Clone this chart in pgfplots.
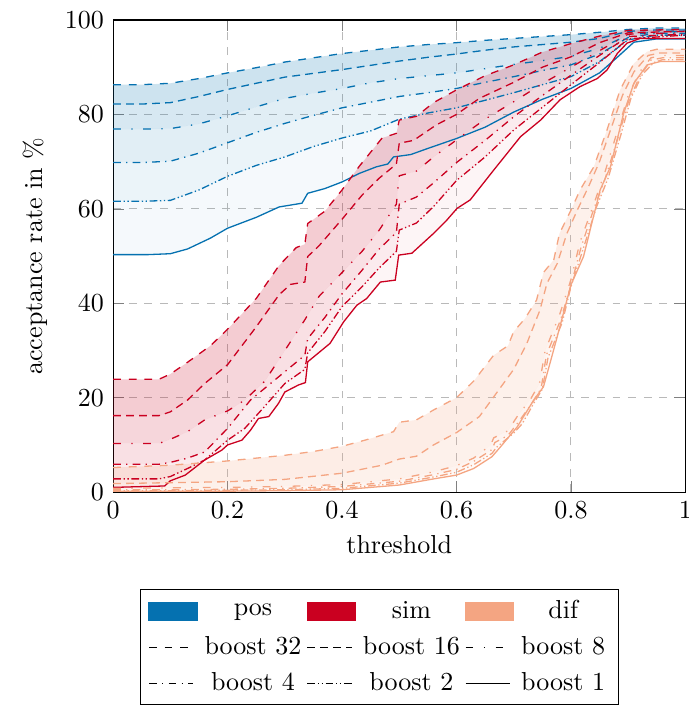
\documentclass[border=0pt]{standalone}
\usepackage{pgfplots}
\pgfplotsset{compat=1.18}
\usepgfplotslibrary{fillbetween}
\definecolor{posc}{HTML}{0571B0}
\definecolor{simc}{HTML}{CA0020}
\definecolor{difc}{HTML}{F4A582}
\pgfplotsset{
  b32/.style={dashed},
  b16/.style={densely dashed},
  b8/.style={loosely dashdotted},
  b4/.style={dashdotted},
  b2/.style={densely dashdotdotted},
  b1/.style={solid},
  band/.style={draw=none, fill opacity=#1, forget plot},
}
\begin{document}
\begin{tikzpicture}
\begin{axis}[
  scale only axis, width=220pt, height=181.5pt,
  xmin=0, xmax=1, ymin=0, ymax=100,
  xtick={0,0.2,0.4,0.6,0.8,1}, ytick={0,20,40,60,80,100},
  xlabel={threshold}, ylabel={acceptance rate in \%},
  grid=major, major grid style={dashed, gray!55},
  legend columns=3,
  legend style={at={(0.047,-0.206)}, anchor=north west, draw=black,
    row sep=1.4pt, /tikz/every odd column/.append style={column sep=0.6pt}},
  every axis plot/.append style={line width=0.5pt},
]
% ---- pos
\addplot[posc, b32, name path=p32, forget plot] coordinates {(0,86.3)(0.05,86.3)(0.1,86.6)(0.15,87.6)(0.2,88.8)(0.25,89.9)(0.3,91.1)(0.35,92.0)(0.4,92.9)(0.45,93.6)(0.5,94.3)(0.55,94.8)(0.6,95.2)(0.65,95.7)(0.7,96.1)(0.75,96.5)(0.8,96.9)(0.85,97.4)(0.9,98.0)(0.95,98.3)(1,98.3)};
\addplot[posc, b16, name path=p16, forget plot] coordinates {(0,82.2)(0.05,82.2)(0.1,82.5)(0.15,83.8)(0.2,85.3)(0.25,86.6)(0.3,87.9)(0.35,88.7)(0.4,89.5)(0.45,90.4)(0.5,91.3)(0.55,92.1)(0.6,92.8)(0.65,93.6)(0.7,94.3)(0.75,94.8)(0.8,95.3)(0.85,96.1)(0.9,97.6)(0.95,97.9)(1,97.9)};
\addplot[posc, b8, name path=p8, forget plot] coordinates {(0,76.9)(0.05,76.9)(0.1,77.0)(0.15,78.0)(0.2,79.7)(0.25,81.6)(0.3,83.4)(0.35,84.5)(0.4,85.5)(0.45,86.7)(0.5,87.6)(0.55,88.2)(0.6,88.8)(0.65,89.7)(0.7,90.6)(0.75,91.4)(0.8,92.3)(0.85,94.0)(0.9,96.8)(0.95,97.5)(1,97.5)};
\addplot[posc, b4, name path=p4, forget plot] coordinates {(0,69.8)(0.05,69.8)(0.1,70.1)(0.15,71.8)(0.2,74.0)(0.25,76.2)(0.3,78.1)(0.35,79.8)(0.4,81.4)(0.45,82.6)(0.5,83.8)(0.55,84.6)(0.6,85.5)(0.65,86.8)(0.7,88.0)(0.75,89.3)(0.8,90.5)(0.85,92.8)(0.9,96.3)(0.95,97.2)(1,97.2)};
\addplot[posc, b2, name path=p2, forget plot] coordinates {(0,61.6)(0.05,61.6)(0.1,61.8)(0.15,64.0)(0.2,66.9)(0.25,69.2)(0.3,71.0)(0.35,73.2)(0.4,75.0)(0.45,76.5)(0.5,79.0)(0.55,80.3)(0.6,81.4)(0.65,83.0)(0.7,84.6)(0.75,86.3)(0.8,88.0)(0.85,91.2)(0.9,95.8)(0.95,96.8)(1,96.8)};
\addplot[posc, b1, name path=p1, forget plot] coordinates {(0,50.3)(0.06,50.3)(0.1,50.5)(0.13,51.5)(0.17,53.8)(0.2,55.9)(0.25,58.2)(0.29,60.4)(0.33,61.2)(0.34,63.3)(0.37,64.3)(0.4,65.7)(0.43,67.5)(0.46,68.9)(0.48,69.5)(0.49,71.0)(0.52,71.5)(0.55,72.8)(0.6,74.9)(0.65,77.3)(0.7,80.5)(0.75,83.2)(0.8,85.5)(0.85,88.8)(0.88,92.0)(0.91,95.3)(0.95,96.0)(1,96.0)};
\addplot[posc, band=0.20] fill between[of=p32 and p16];
\addplot[posc, band=0.16] fill between[of=p16 and p8];
\addplot[posc, band=0.12] fill between[of=p8 and p4];
\addplot[posc, band=0.08] fill between[of=p4 and p2];
\addplot[posc, band=0.04] fill between[of=p2 and p1];
% ---- sim
\addplot[simc, b32, name path=s32, forget plot] coordinates {(0,23.9)(0.08,23.9)(0.1,25.0)(0.13,27.5)(0.17,31.0)(0.2,34.5)(0.25,41.0)(0.29,48.0)(0.32,51.8)(0.335,52.5)(0.34,56.9)(0.37,59.5)(0.4,64.0)(0.43,69.0)(0.47,75.0)(0.495,76.0)(0.5,78.8)(0.53,79.6)(0.56,82.5)(0.6,85.2)(0.65,88.2)(0.7,90.5)(0.75,93.2)(0.8,95.0)(0.85,96.6)(0.9,97.8)(1,98.0)};
\addplot[simc, b16, name path=s16, forget plot] coordinates {(0,16.2)(0.08,16.2)(0.1,17.0)(0.13,19.5)(0.16,23.0)(0.2,27.0)(0.25,35.0)(0.29,41.8)(0.31,44.0)(0.335,44.5)(0.34,49.9)(0.36,52.2)(0.4,57.8)(0.435,62.9)(0.465,66.5)(0.495,69.5)(0.5,73.9)(0.525,74.5)(0.565,77.8)(0.6,80.0)(0.64,83.4)(0.7,86.8)(0.75,90.0)(0.8,92.2)(0.85,95.2)(0.9,97.3)(1,97.6)};
\addplot[simc, b8, name path=s8, forget plot] coordinates {(0,10.3)(0.08,10.3)(0.1,11.2)(0.13,12.8)(0.16,15.3)(0.2,17.2)(0.23,19.5)(0.265,23.5)(0.3,30.0)(0.335,36.5)(0.36,41.5)(0.4,46.5)(0.435,51.0)(0.465,55.5)(0.495,61.0)(0.5,67.0)(0.53,68.0)(0.56,71.0)(0.6,74.6)(0.65,79.0)(0.7,82.7)(0.75,86.5)(0.8,90.0)(0.85,93.5)(0.9,97.0)(1,97.3)};
\addplot[simc, b4, name path=s4, forget plot] coordinates {(0,5.9)(0.08,5.9)(0.1,6.3)(0.13,7.2)(0.16,8.5)(0.18,11.0)(0.2,13.5)(0.24,19.5)(0.27,22.5)(0.3,25.5)(0.335,29.0)(0.34,32.5)(0.37,37.0)(0.4,42.0)(0.435,47.0)(0.465,51.5)(0.495,55.0)(0.5,61.0)(0.53,62.5)(0.56,65.5)(0.6,69.8)(0.65,74.5)(0.7,79.5)(0.75,84.0)(0.8,88.3)(0.85,92.5)(0.9,96.5)(1,97.0)};
\addplot[simc, b2, name path=s2, forget plot] coordinates {(0,2.8)(0.08,2.8)(0.1,3.3)(0.13,5.0)(0.16,6.8)(0.2,11.0)(0.23,13.5)(0.26,17.5)(0.3,23.0)(0.335,26.0)(0.34,29.5)(0.37,34.0)(0.4,39.3)(0.435,43.5)(0.465,47.5)(0.495,51.0)(0.5,55.5)(0.53,57.0)(0.56,60.5)(0.6,66.0)(0.65,71.0)(0.7,76.7)(0.75,81.5)(0.8,86.3)(0.85,91.0)(0.9,96.0)(1,96.8)};
\addplot[simc, b1, name path=s1, forget plot] coordinates {(0,1.0)(0.09,1.3)(0.1,2.4)(0.126,3.6)(0.16,6.8)(0.19,8.9)(0.2,10.0)(0.225,11.0)(0.24,13.1)(0.254,15.6)(0.272,16.0)(0.289,18.8)(0.3,21.2)(0.324,22.7)(0.336,23.2)(0.34,27.6)(0.379,31.5)(0.403,36.1)(0.426,39.6)(0.443,41.0)(0.467,44.5)(0.493,44.9)(0.499,50.2)(0.522,50.6)(0.56,54.8)(0.583,57.6)(0.601,60.1)(0.624,61.9)(0.665,68.2)(0.712,75.3)(0.747,78.8)(0.781,83.1)(0.816,85.9)(0.846,87.6)(0.863,89.4)(0.881,92.9)(0.898,95.1)(0.921,96.1)(1,96.1)};
\addplot[simc, band=0.20] fill between[of=s32 and s16];
\addplot[simc, band=0.16] fill between[of=s16 and s8];
\addplot[simc, band=0.12] fill between[of=s8 and s4];
\addplot[simc, band=0.08] fill between[of=s4 and s2];
\addplot[simc, band=0.04] fill between[of=s2 and s1];
% ---- dif
\addplot[difc, b32, name path=d32, forget plot] coordinates {(0,5.2)(0.1,5.7)(0.2,6.6)(0.3,7.8)(0.35,8.6)(0.4,9.7)(0.44,11.0)(0.49,12.8)(0.5,14.8)(0.53,15.3)(0.56,17.4)(0.6,20.0)(0.63,23.5)(0.665,29.0)(0.69,31.0)(0.7,34.0)(0.72,36.8)(0.74,40.7)(0.752,46.5)(0.77,49.2)(0.78,54.8)(0.8,59.7)(0.816,64.0)(0.84,68.9)(0.863,76.7)(0.886,85.2)(0.91,90.8)(0.933,93.3)(0.95,93.8)(1,93.8)};
\addplot[difc, b16, name path=d16, forget plot] coordinates {(0,1.8)(0.1,2.0)(0.2,2.2)(0.3,2.7)(0.4,4.0)(0.47,5.7)(0.5,7.0)(0.53,7.6)(0.56,10.0)(0.6,12.6)(0.64,16.0)(0.67,21.0)(0.7,26.0)(0.723,31.5)(0.746,38.6)(0.758,44.2)(0.776,48.4)(0.793,54.8)(0.811,59.7)(0.83,64.5)(0.85,70.0)(0.87,77.0)(0.89,84.0)(0.91,89.0)(0.935,92.5)(0.955,93.0)(1,93.0)};
\addplot[difc, b8, name path=d8, forget plot] coordinates {(0,0.8)(0.1,0.9)(0.2,1.0)(0.3,1.2)(0.4,1.6)(0.5,2.8)(0.56,4.3)(0.6,5.6)(0.63,7.2)(0.66,10.0)(0.665,11.5)(0.69,13.0)(0.706,16.0)(0.73,19.8)(0.745,23.0)(0.755,30.0)(0.78,37.5)(0.8,45.0)(0.816,53.0)(0.84,61.0)(0.86,68.0)(0.88,76.0)(0.9,84.0)(0.92,89.0)(0.94,92.0)(0.96,92.5)(1,92.5)};
\addplot[difc, b4, name path=d4, forget plot] coordinates {(0,0.5)(0.1,0.5)(0.2,0.6)(0.3,0.8)(0.4,1.2)(0.5,2.3)(0.56,3.7)(0.6,4.8)(0.63,6.5)(0.662,9.0)(0.667,10.5)(0.69,12.0)(0.708,14.8)(0.733,19.0)(0.748,22.0)(0.757,29.0)(0.782,36.5)(0.8,43.8)(0.818,52.0)(0.84,60.0)(0.86,66.5)(0.882,75.0)(0.9,82.5)(0.92,88.0)(0.94,91.5)(0.96,92.0)(1,92.0)};
\addplot[difc, b2, name path=d2, forget plot] coordinates {(0,0.3)(0.1,0.3)(0.2,0.4)(0.3,0.5)(0.4,0.8)(0.5,1.9)(0.56,3.2)(0.6,4.2)(0.63,5.8)(0.662,8.2)(0.67,9.5)(0.7,12.5)(0.715,14.5)(0.735,18.8)(0.75,21.8)(0.76,28.5)(0.785,36.0)(0.8,43.5)(0.82,51.0)(0.845,60.5)(0.865,66.5)(0.888,76.0)(0.905,83.5)(0.925,88.5)(0.945,91.0)(0.96,91.6)(1,91.6)};
\addplot[difc, b1, name path=d1, forget plot] coordinates {(0,0.2)(0.1,0.2)(0.2,0.2)(0.3,0.3)(0.4,0.5)(0.5,1.5)(0.56,2.8)(0.6,3.6)(0.63,5.0)(0.662,7.5)(0.677,9.6)(0.706,13.8)(0.735,19.5)(0.752,22.3)(0.765,28.0)(0.776,32.9)(0.8,43.9)(0.822,49.9)(0.851,64.0)(0.869,68.9)(0.892,80.2)(0.91,86.6)(0.933,90.5)(0.956,91.2)(1,91.2)};
\addplot[difc, band=0.20] fill between[of=d32 and d16];
\addplot[difc, band=0.16] fill between[of=d16 and d8];
\addplot[difc, band=0.12] fill between[of=d8 and d4];
\addplot[difc, band=0.08] fill between[of=d4 and d2];
\addplot[difc, band=0.04] fill between[of=d2 and d1];
% ---- legend
\addlegendimage{legend image code/.code={\fill[posc] (0cm,-0.125cm) rectangle (0.65cm,0.125cm);}}
\addlegendentry{pos}
\addlegendimage{legend image code/.code={\fill[simc] (0cm,-0.125cm) rectangle (0.65cm,0.125cm);}}
\addlegendentry{sim}
\addlegendimage{legend image code/.code={\fill[difc] (0cm,-0.125cm) rectangle (0.65cm,0.125cm);}}
\addlegendentry{dif}
\addlegendimage{black, b32}\addlegendentry{boost 32}
\addlegendimage{black, b16}\addlegendentry{boost 16}
\addlegendimage{black, b8}\addlegendentry{boost 8}
\addlegendimage{black, b4}\addlegendentry{boost 4}
\addlegendimage{black, b2}\addlegendentry{boost 2}
\addlegendimage{black, b1}\addlegendentry{boost 1}
\end{axis}
\pgfresetboundingbox
\path[use as bounding box] ([shift={(-43.5pt,-83pt)}]current axis.south west) rectangle ([shift={(221.2pt,189.2pt)}]current axis.south west);
\end{tikzpicture}
\end{document}
